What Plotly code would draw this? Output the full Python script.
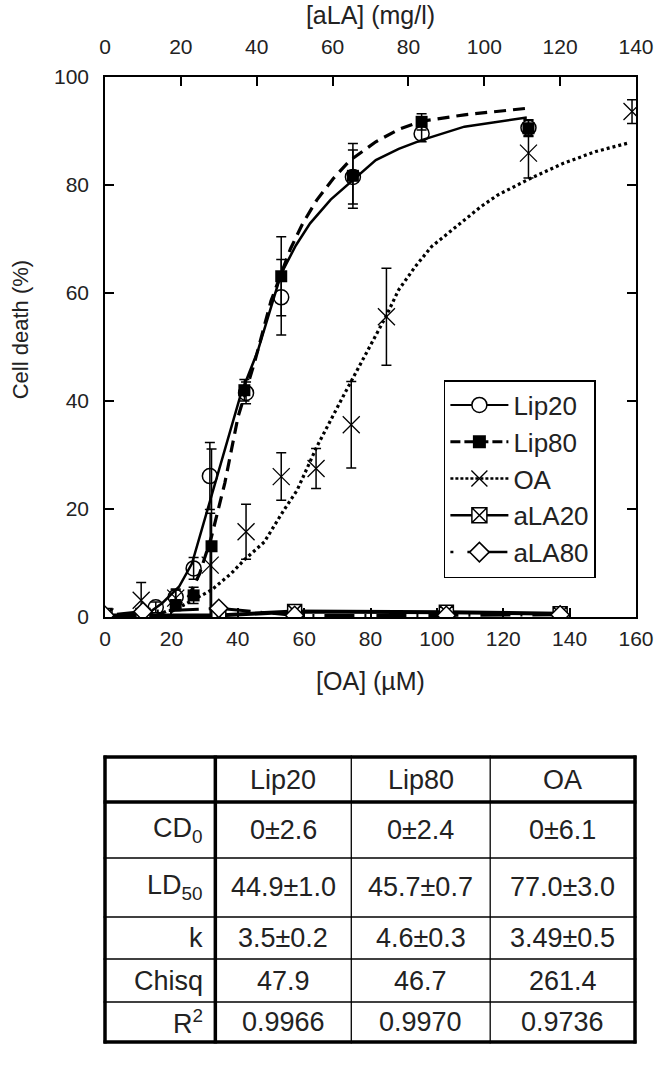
import plotly.graph_objects as go

# ---------------- data ----------------
# measured points, bottom axis [OA] (uM)
lip20_x = [0, 15.3, 21.3, 26.7, 31.6, 42.5, 53.1, 74.7, 95.4, 127.6]
lip20_y = [0, 1.8, 3.7, 9.0, 26.1, 41.5, 59.2, 81.5, 89.5, 90.6]
lip20_err = [0, 1.0, 1.5, 2.0, 6.2, 2.0, 7.0, 5.0, 1.5, 1.5]

lip80_x = [0, 21.3, 26.7, 32.1, 42.0, 53.1, 74.7, 95.4, 127.6]
lip80_y = [0, 2.2, 4.0, 13.1, 42.0, 63.1, 81.7, 91.7, 90.5]
lip80_err = [0, 1.0, 1.5, 18.0, 2.0, 7.3, 6.0, 1.5, 1.5]

oa_x = [0, 10.9, 21.3, 31.7, 42.5, 53.1, 63.6, 74.2, 84.8, 127.6, 158.8]
oa_y = [0, 3.1, 3.5, 9.6, 15.8, 26.0, 27.5, 35.6, 55.6, 85.9, 93.6]
oa_err = [0, 3.3, 1.5, 9.6, 5.1, 4.4, 3.7, 8.0, 9.0, 4.6, 2.2]

# top axis [aLA] (mg/l)
ala20_x = [0, 10, 30, 50, 90, 120]
ala20_y = [0.3, 0.3, 0.3, 1.0, 0.9, 0.6]
ala80_x = [0, 10, 30, 50, 90, 120]
ala80_y = [0.3, 1.0, 1.6, 0.3, 0.3, 0.4]

# fitted curves
lip20_fit_x = [8, 12.4, 17.3, 22.3, 26.2, 31.2, 36.1, 41.0, 46.0, 53.1, 57.5, 61.8, 68.0, 74.7, 81.6, 88.5,
               95.4, 108.3, 127.1]
lip20_fit_y = [0.1, 0.4, 2.6, 5.6, 9.9, 20.7, 30.9, 41.4, 49.2, 63.6, 68.8, 72.9, 77.3, 80.9, 84.6, 86.7,
               88.3, 90.8, 92.5]

lip80_fit_x = [15, 18.3, 21.5, 25.2, 28.5, 32.1, 36.1, 40.1, 45.0, 50.0, 55.9, 59.6, 63.8, 68.8, 73.7, 81.6,
               88.5, 95.4, 108.3, 127.1]
lip80_fit_y = [0.2, 1.0, 2.0, 3.8, 8.0, 14.9, 24.8, 37.1, 47.0, 58.5, 68.2, 72.9, 77.2, 81.2, 84.5, 88.0,
               90.3, 91.8, 93.0, 94.2]

oa_fit_x = [20, 26.2, 32.1, 38.1, 42.0, 48.0, 53.9, 57.9, 63.8, 71.7, 78.6, 84.6, 88.5, 93.5, 98.4, 103.4,
            108.3, 113.3, 118.2, 123.1, 128.1, 138.0, 147.9, 157.8]
oa_fit_y = [1.0, 3.1, 5.0, 8.1, 10.6, 13.9, 19.8, 23.5, 31.5, 40.8, 48.8, 55.6, 60.6, 64.9, 68.6, 71.1,
            73.5, 76.0, 78.1, 79.7, 81.2, 84.0, 86.2, 87.8]

# axis ticks
x_ticks = [0, 20, 40, 60, 80, 100, 120, 140, 160]
x2_ticks = [0, 20, 40, 60, 80, 100, 120, 140]
y_ticks = [0, 20, 40, 60, 80, 100]

# table
table_header = ["", "Lip20", "Lip80", "OA"]
row_labels = ["CD<sub>0</sub>", "LD<sub>50</sub>", "k", "Chisq", "R<sup>2</sup>"]
lip20_params = ["0±2.6", "44.9±1.0", "3.5±0.2", "47.9", "0.9966"]
lip80_params = ["0±2.4", "45.7±0.7", "4.6±0.3", "46.7", "0.9970"]
oa_params = ["0±6.1", "77.0±3.0", "3.49±0.5", "261.4", "0.9736"]

# ---------------- figure ----------------
FONT = "Liberation Sans, Arial, sans-serif"
TXT = "#222222"
W, H = 666, 1070
L, R, T, B = 105, 644, 77, 617  # plot frame in page pixels


def px(xp):
    return (xp - L) / (R - L)


def py(yp):
    return (B - yp) / (B - T)


fig = go.Figure()
err_style = dict(type="data", visible=True, color="black", thickness=1.5, width=5)

# aLA series on top axis (drawn first, they lie on the baseline)
fig.add_trace(go.Scatter(x=ala20_x, y=ala20_y, xaxis="x2", mode="lines+markers",
                         line=dict(color="black", width=4),
                         marker=dict(symbol="square-x", size=14, color="white", line=dict(color="black", width=1.5)),
                         showlegend=False))
fig.add_trace(go.Scatter(x=ala80_x, y=ala80_y, xaxis="x2", mode="lines+markers",
                         line=dict(color="black", width=3, dash="2px,10px,30px,10px"),
                         marker=dict(symbol="diamond", size=14, color="white", line=dict(color="black", width=1.5)),
                         showlegend=False))

# fitted lines
fig.add_trace(go.Scatter(x=lip20_fit_x, y=lip20_fit_y, mode="lines", line=dict(color="black", width=2.5),
                         showlegend=False, hoverinfo="skip"))
fig.add_trace(go.Scatter(x=lip80_fit_x, y=lip80_fit_y, mode="lines",
                         line=dict(color="black", width=3.2, dash="12px,7px"),
                         showlegend=False, hoverinfo="skip"))
fig.add_trace(go.Scatter(x=oa_fit_x, y=oa_fit_y, mode="lines",
                         line=dict(color="black", width=3.2, dash="3px,3px"),
                         showlegend=False, hoverinfo="skip"))

# measured points
fig.add_trace(go.Scatter(x=oa_x, y=oa_y, mode="markers", error_y=dict(array=oa_err, **err_style),
                         marker=dict(symbol="x-thin", size=17, color="black", line=dict(color="black", width=1.3)),
                         showlegend=False))
fig.add_trace(go.Scatter(x=lip20_x, y=lip20_y, mode="markers", error_y=dict(array=lip20_err, **err_style),
                         marker=dict(symbol="circle-open", size=15, color="black", line=dict(color="black", width=1.5)),
                         showlegend=False))
fig.add_trace(go.Scatter(x=lip80_x, y=lip80_y, mode="markers", error_y=dict(array=lip80_err, **err_style),
                         marker=dict(symbol="square", size=12, color="black"),
                         showlegend=False))

# legend entries
fig.add_trace(go.Scatter(x=[None], y=[None], mode="lines+markers", name="Lip20",
                         line=dict(color="black", width=2),
                         marker=dict(symbol="circle", size=15, color="white", line=dict(color="black", width=1.5))))
fig.add_trace(go.Scatter(x=[None], y=[None], mode="lines+markers", name="Lip80",
                         line=dict(color="black", width=3, dash="10px,4px"),
                         marker=dict(symbol="square", size=13, color="black")))
fig.add_trace(go.Scatter(x=[None], y=[None], mode="lines+markers", name="OA",
                         line=dict(color="black", width=2.5, dash="3px,2px"),
                         marker=dict(symbol="x-thin", size=17, color="black", line=dict(color="black", width=1.3))))
fig.add_trace(go.Scatter(x=[None], y=[None], mode="lines+markers", name="aLA20",
                         line=dict(color="black", width=2.5),
                         marker=dict(symbol="square-x", size=15, color="white", line=dict(color="black", width=1.5))))
fig.add_trace(go.Scatter(x=[None], y=[None], mode="lines+markers", name="aLA80",
                         line=dict(color="black", width=2.5, dash="3px,14px,40px"),
                         marker=dict(symbol="diamond", size=15, color="white", line=dict(color="black", width=1.5))))

axis_common = dict(showline=True, linecolor="black", linewidth=1.5, ticks="inside", ticklen=9, tickwidth=1.5,
                   tickcolor="black", showgrid=False, zeroline=False,
                   tickfont=dict(family=FONT, size=21, color=TXT))

fig.update_layout(
    width=W, height=H,
    margin=dict(l=L, r=W - R, t=T, b=H - B),
    paper_bgcolor="white", plot_bgcolor="white",
    font=dict(family=FONT, color=TXT),
    xaxis=dict(range=[0, 160], tickvals=x_ticks, ticklabelstandoff=2, ticklabeloverflow="allow",
               title=dict(text="[OA] (µM)", font=dict(family=FONT, size=25, color=TXT), standoff=24),
               **axis_common),
    xaxis2=dict(range=[0, 140], tickvals=x2_ticks, overlaying="x", side="top", ticklabelstandoff=13,
                ticklabeloverflow="allow",
                title=dict(text="[aLA] (mg/l)", font=dict(family=FONT, size=25, color=TXT), standoff=3),
                **axis_common),
    yaxis=dict(range=[0, 100], tickvals=y_ticks, mirror="ticks", ticklabelstandoff=10, **axis_common),
    legend=dict(x=px(449), y=py(380), xanchor="left", yanchor="top",
                bgcolor="white", bordercolor="black", borderwidth=1.5,
                font=dict(family=FONT, size=26, color=TXT), itemwidth=58, tracegroupgap=0),
)

# ---------------- table (below the chart) ----------------
col_edges = [105, 217, 355, 496, 643]
row_edges = [757, 802, 858, 917, 959, 1002, 1042]
thick_cols = {0, 1, 4}
thick_rows = {0, 1, 6}

shapes = []
for i, xe in enumerate(col_edges):
    shapes.append(dict(type="line", xref="paper", yref="paper", x0=px(xe), x1=px(xe),
                       y0=py(row_edges[0] - 1.5), y1=py(row_edges[-1] + 1.5),
                       line=dict(color="black", width=3.5 if i in thick_cols else 1.3)))
for j, ye in enumerate(row_edges):
    shapes.append(dict(type="line", xref="paper", yref="paper", x0=px(col_edges[0] - 1.5),
                       x1=px(col_edges[-1] + 1.5), y0=py(ye), y1=py(ye),
                       line=dict(color="black", width=3.5 if j in thick_rows else 1.3)))

ann = []
# y axis title, placed like the reference (slightly above the middle of the axis)
ann.append(dict(xref="paper", yref="paper", x=px(19), y=py(330), text="Cell death (%)", textangle=-90,
                showarrow=False, font=dict(family=FONT, size=22, color=TXT), xanchor="center", yanchor="middle"))

tfont = dict(family=FONT, size=27, color=TXT)
for c in range(1, 4):
    ann.append(dict(xref="paper", yref="paper", x=px((col_edges[c] + col_edges[c + 1]) / 2),
                    y=py((row_edges[0] + row_edges[1]) / 2), text=table_header[c], showarrow=False,
                    font=tfont, xanchor="center", yanchor="middle"))
columns = [lip20_params, lip80_params, oa_params]
for r in range(5):
    yc = py((row_edges[r + 1] + row_edges[r + 2]) / 2)
    ann.append(dict(xref="paper", yref="paper", x=px(col_edges[1] - 11), y=yc, text=row_labels[r],
                    showarrow=False, font=tfont, xanchor="right", yanchor="middle"))
    for c in range(3):
        ann.append(dict(xref="paper", yref="paper", x=px((col_edges[c + 1] + col_edges[c + 2]) / 2), y=yc,
                        text=columns[c][r], showarrow=False, font=tfont, xanchor="center", yanchor="middle"))

fig.update_layout(shapes=shapes, annotations=ann)
# the page body has a default 8px margin: remove it so the figure fills the 666x1070 window exactly
fig.write_html("out.html", config={"displayModeBar": False},
               post_script="document.body.style.margin='0px';document.body.style.overflow='hidden';")
